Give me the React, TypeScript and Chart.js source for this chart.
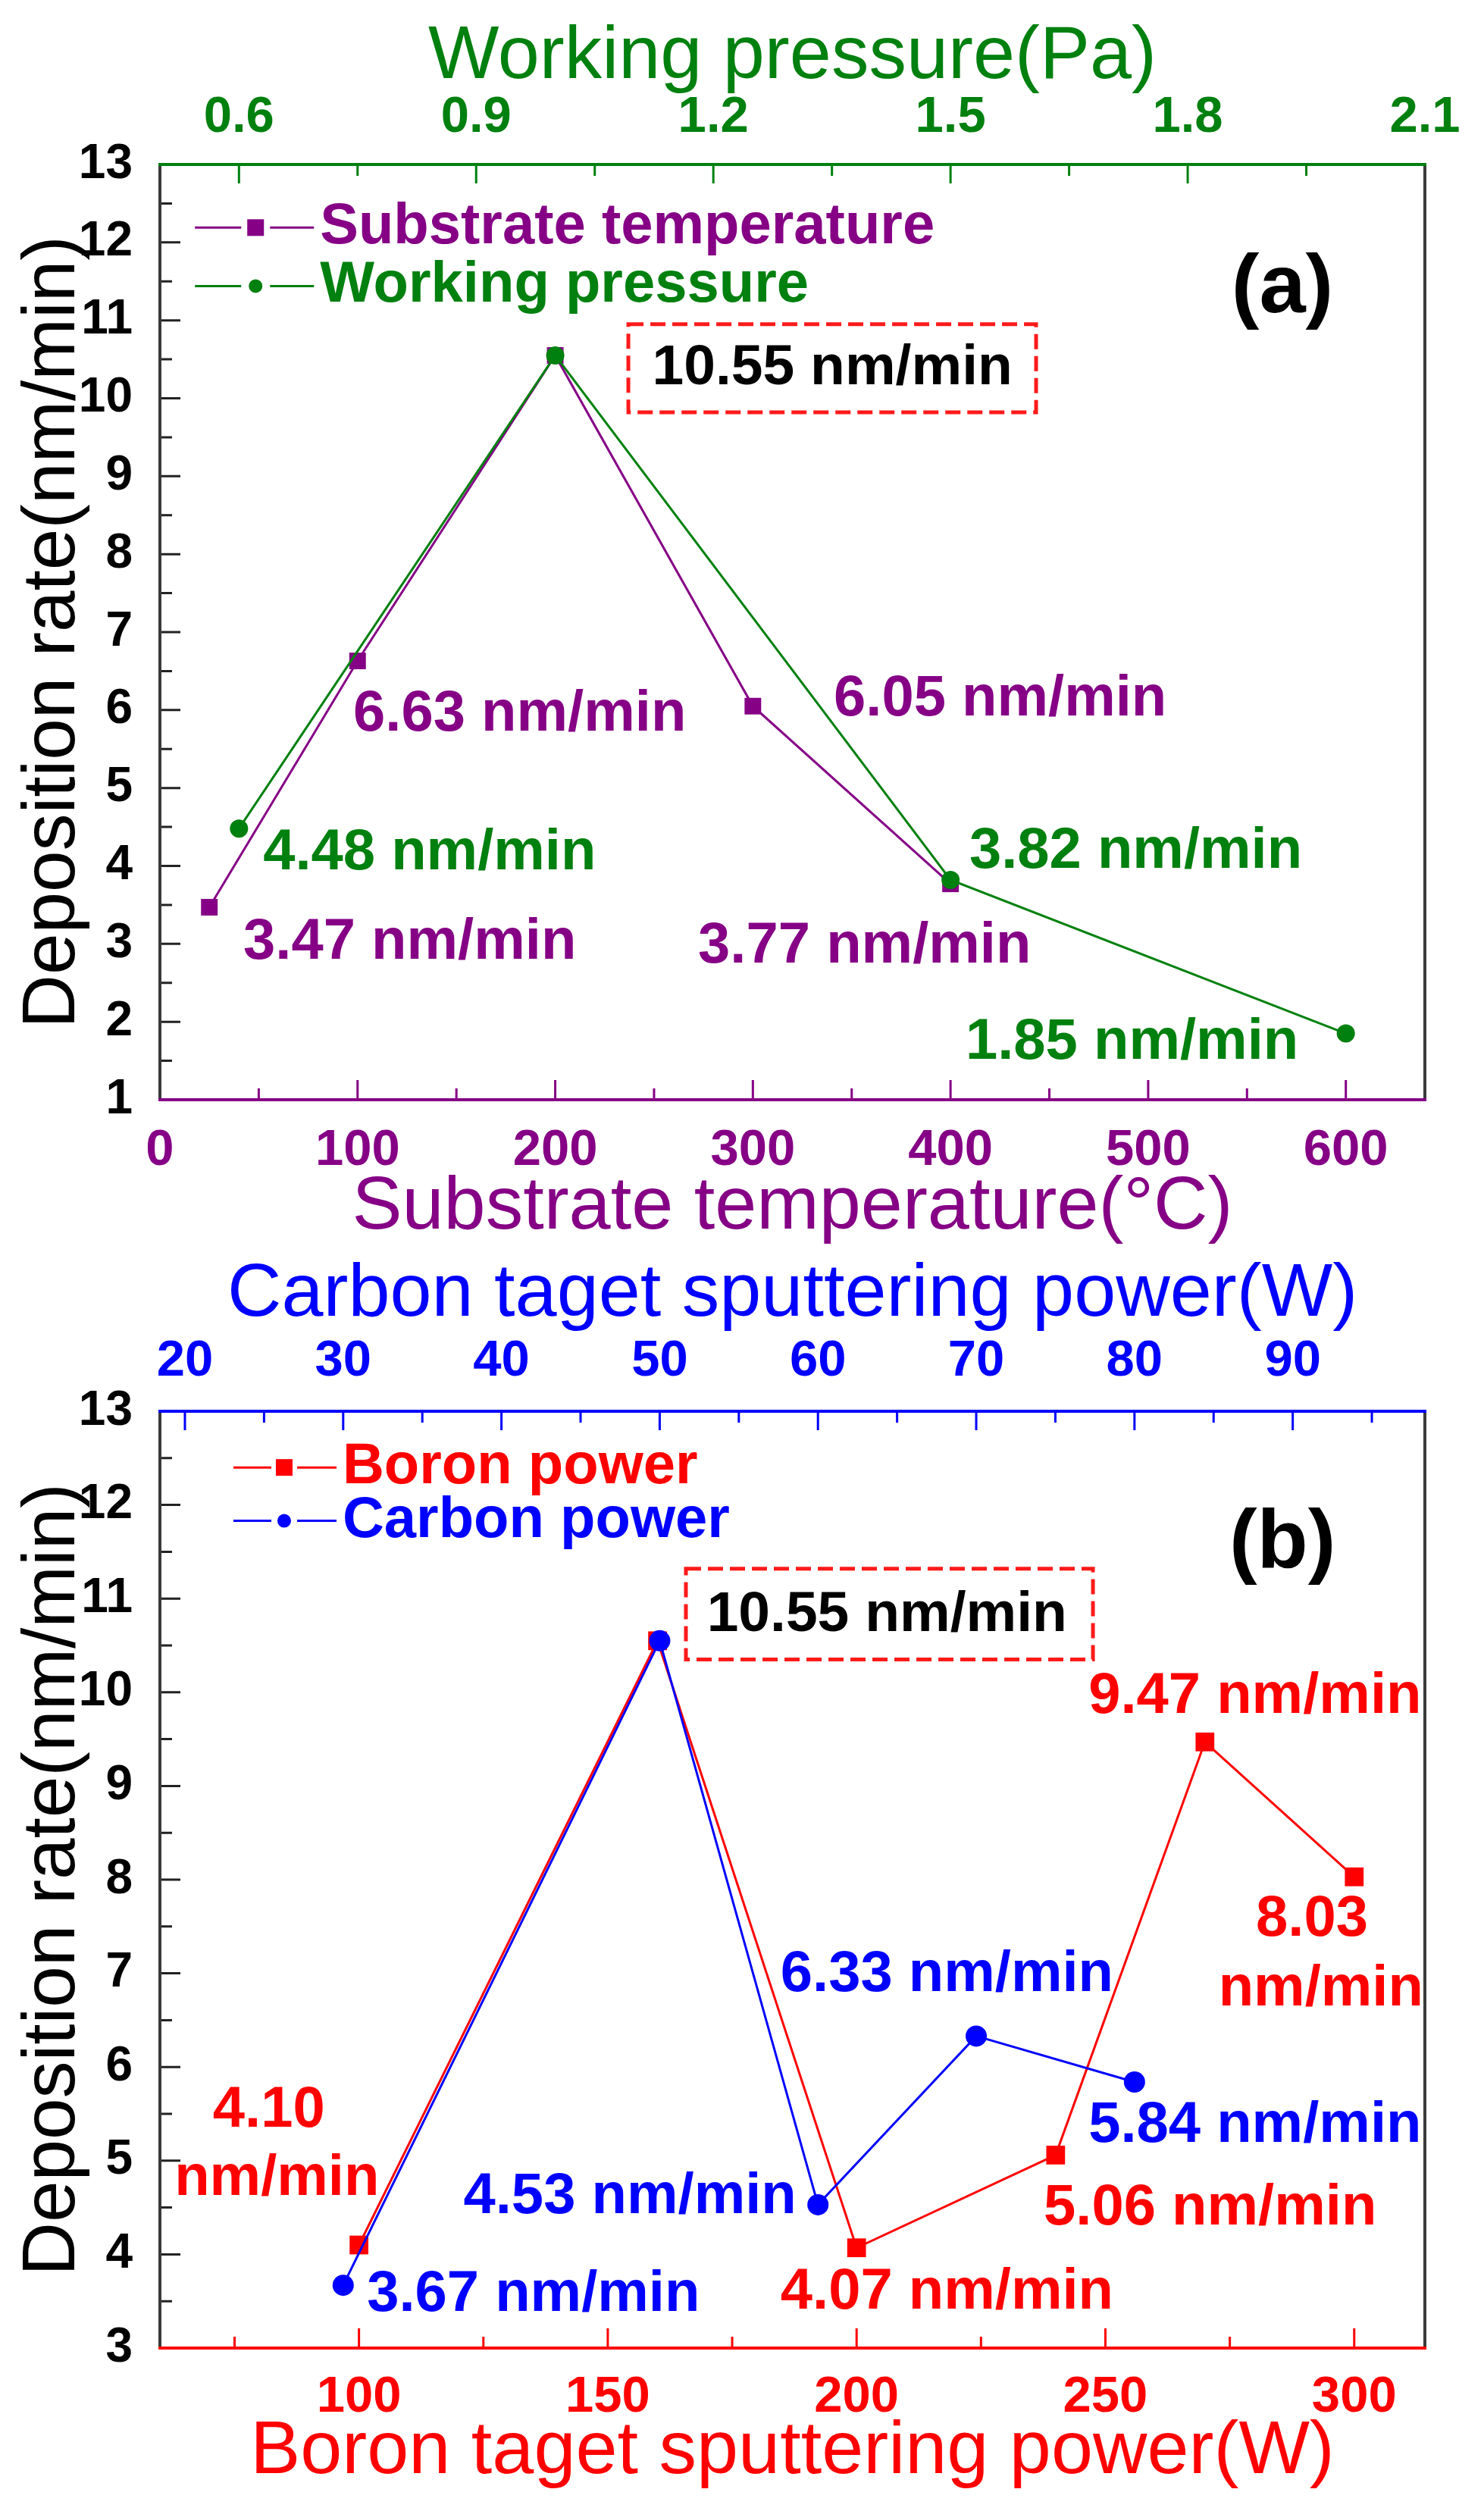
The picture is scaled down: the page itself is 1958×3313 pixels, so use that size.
import React, { useEffect, useRef } from 'react';
import { Chart, registerables } from 'chart.js';

Chart.register(...registerables);

// ---------------- Panel (a) data ----------------
const substrateTempC = [25, 100, 200, 300, 400];
const substrateRate = [3.47, 6.63, 10.55, 6.05, 3.77];
const pressurePa = [0.6, 1.0, 1.5, 2.0];
const pressureRate = [4.48, 10.55, 3.82, 1.85];

const tempTicks = [0, 100, 200, 300, 400, 500, 600];
const tempTickLabels = ['0', '100', '200', '300', '400', '500', '600'];
const tempMinor = [50, 150, 250, 350, 450, 550];
const pressureTicks = [0.6, 0.9, 1.2, 1.5, 1.8, 2.1];
const pressureTickLabels = ['0.6', '0.9', '1.2', '1.5', '1.8', '2.1'];
const pressureMinor = [0.75, 1.05, 1.35, 1.65, 1.95];
const rateTicksA = [1, 2, 3, 4, 5, 6, 7, 8, 9, 10, 11, 12, 13];
const rateMinorA = [1.5, 2.5, 3.5, 4.5, 5.5, 6.5, 7.5, 8.5, 9.5, 10.5, 11.5, 12.5];

// ---------------- Panel (b) data ----------------
const boronPowerW = [100, 160, 200, 240, 270, 300];
const boronRate = [4.1, 10.55, 4.07, 5.06, 9.47, 8.03];
const carbonPowerW = [30, 50, 60, 70, 80];
const carbonRate = [3.67, 10.55, 4.53, 6.33, 5.84];

const boronTicks = [100, 150, 200, 250, 300];
const boronTickLabels = ['100', '150', '200', '250', '300'];
const boronMinor = [75, 125, 175, 225, 275];
const carbonTicks = [20, 30, 40, 50, 60, 70, 80, 90];
const carbonTickLabels = ['20', '30', '40', '50', '60', '70', '80', '90'];
const carbonMinor = [25, 35, 45, 55, 65, 75, 85, 95];
const rateTicksB = [3, 4, 5, 6, 7, 8, 9, 10, 11, 12, 13];
const rateMinorB = [3.5, 4.5, 5.5, 6.5, 7.5, 8.5, 9.5, 10.5, 11.5, 12.5];

// ---------------- colours / fonts ----------------
const PURPLE = '#850085';
const GREEN = '#00800f';
const RED = '#ff0000';
const BLUE = '#0000ff';
const AXIS_BLACK = '#222222';
const FONT = '"Liberation Sans", Arial, Helvetica, sans-serif';

type Ann = { text: string; x: number; y: number; color: string; align: CanvasTextAlign };

// annotation anchors in (bottom-axis value, rate value)
const annotationsA: Ann[] = [
  { text: '6.63 nm/min', x: 97.8, y: 5.94, color: PURPLE, align: 'left' },
  { text: '6.05 nm/min', x: 340.9, y: 6.13, color: PURPLE, align: 'left' },
  { text: '4.48 nm/min', x: 52.2, y: 4.16, color: GREEN, align: 'left' },
  { text: '3.82 nm/min', x: 409.5, y: 4.18, color: GREEN, align: 'left' },
  { text: '3.47 nm/min', x: 42.2, y: 3.01, color: PURPLE, align: 'left' },
  { text: '3.77 nm/min', x: 272.3, y: 2.96, color: PURPLE, align: 'left' },
  { text: '1.85 nm/min', x: 407.6, y: 1.73, color: GREEN, align: 'left' },
];
const annotationsB: Ann[] = [
  { text: '4.10', x: 81.9, y: 5.53, color: RED, align: 'center' },
  { text: 'nm/min', x: 83.5, y: 4.8, color: RED, align: 'center' },
  { text: '4.53 nm/min', x: 187.9, y: 4.61, color: BLUE, align: 'right' },
  { text: '3.67 nm/min', x: 101.6, y: 3.57, color: BLUE, align: 'left' },
  { text: '4.07 nm/min', x: 184.7, y: 3.59, color: RED, align: 'left' },
  { text: '6.33 nm/min', x: 184.7, y: 6.98, color: BLUE, align: 'left' },
  { text: '5.84 nm/min', x: 246.6, y: 5.37, color: BLUE, align: 'left' },
  { text: '5.06 nm/min', x: 237.6, y: 4.49, color: RED, align: 'left' },
  { text: '8.03', x: 291.5, y: 7.57, color: RED, align: 'center' },
  { text: 'nm/min', x: 293.3, y: 6.83, color: RED, align: 'center' },
  { text: '9.47 nm/min', x: 246.6, y: 9.95, color: RED, align: 'left' },
];

type Spec = {
  height: number;
  padding: { left: number; right: number; top: number; bottom: number };
  topH: number;
  bottomH: number;
  leftW: number;
  bottom: any;
  top: any;
  y: any;
  datasets: any[];
  annotations: Ann[];
  panelLabel: { text: string; x: number; y: number };
  box: { x0: number; x1: number; y0: number; y1: number; text: string; tx: number; ty: number };
  legend: { x: number; y: number; text: string; color: string; marker: 'rect' | 'circle'; size: number }[];
  legendGeom: { lineStart: number; lineEnd: number; marker: number; gap: number };
};

const specA: Spec = {
  height: 1650,
  padding: { left: 22, right: 78, top: 26, bottom: 7 },
  topH: 191,
  bottomH: 192,
  leftW: 189,
  bottom: {
    min: 0, max: 640, ticks: tempTicks, labels: tempTickLabels, minor: tempMinor,
    color: PURPLE, title: 'Substrate temperature(°C)', pad: 26,
  },
  top: {
    min: 0.5, max: 2.1, ticks: pressureTicks, labels: pressureTickLabels, minor: pressureMinor,
    color: GREEN, title: 'Working pressure(Pa)', pad: 20,
  },
  y: { min: 1, max: 13, ticks: rateTicksA, minor: rateMinorA },
  datasets: [
    {
      label: 'Substrate temperature',
      data: substrateTempC.map((t, i) => ({ x: t, y: substrateRate[i] })),
      xAxisID: 'x', yAxisID: 'y',
      borderColor: PURPLE, backgroundColor: PURPLE, borderWidth: 3,
      pointStyle: 'rect', pointRadius: 15.5, pointBorderWidth: 0,
      pointBackgroundColor: PURPLE, showLine: true, order: 1,
    },
    {
      label: 'Working pressure',
      data: pressurePa.map((p, i) => ({ x: p, y: pressureRate[i] })),
      xAxisID: 'x2', yAxisID: 'y',
      borderColor: GREEN, backgroundColor: GREEN, borderWidth: 3,
      pointStyle: 'circle', pointRadius: 12, pointBorderWidth: 0,
      pointBackgroundColor: GREEN, showLine: true, order: 0,
    },
  ],
  annotations: annotationsA,
  panelLabel: { text: '(a)', x: 567.9, y: 11.4 },
  box: { x0: 237, x1: 443.3, y0: 10.95, y1: 9.82, text: '10.55 nm/min', tx: 340.2, ty: 10.38 },
  legend: [
    { x: 81, y: 12.19, text: 'Substrate temperature', color: PURPLE, marker: 'rect', size: 11 },
    { x: 81, y: 11.44, text: 'Working pressure', color: GREEN, marker: 'circle', size: 9 },
  ],
  legendGeom: { lineStart: -165, lineEnd: -8, marker: -85, gap: 19 },
};

const specB: Spec = {
  height: 1663,
  padding: { left: 22, right: 78, top: 9, bottom: 28 },
  topH: 203,
  bottomH: 187,
  leftW: 189,
  bottom: {
    min: 60, max: 314.2, ticks: boronTicks, labels: boronTickLabels, minor: boronMinor,
    color: RED, title: 'Boron taget sputtering power(W)', pad: 24,
  },
  top: {
    min: 18.42, max: 98.35, ticks: carbonTicks, labels: carbonTickLabels, minor: carbonMinor,
    color: BLUE, title: 'Carbon taget sputtering power(W)', pad: 24,
  },
  y: { min: 3, max: 13, ticks: rateTicksB, minor: rateMinorB },
  datasets: [
    {
      label: 'Boron power',
      data: boronPowerW.map((p, i) => ({ x: p, y: boronRate[i] })),
      xAxisID: 'x', yAxisID: 'y',
      borderColor: RED, backgroundColor: RED, borderWidth: 3,
      pointStyle: 'rect', pointRadius: 17.5, pointBorderWidth: 0,
      pointBackgroundColor: RED, showLine: true, order: 1,
    },
    {
      label: 'Carbon power',
      data: carbonPowerW.map((p, i) => ({ x: p, y: carbonRate[i] })),
      xAxisID: 'x2', yAxisID: 'y',
      borderColor: BLUE, backgroundColor: BLUE, borderWidth: 3,
      pointStyle: 'circle', pointRadius: 14, pointBorderWidth: 0,
      pointBackgroundColor: BLUE, showLine: true, order: 0,
    },
  ],
  annotations: annotationsB,
  panelLabel: { text: '(b)', x: 285.6, y: 11.58 },
  box: { x0: 165.7, x1: 247.5, y0: 11.32, y1: 10.35, text: '10.55 nm/min', tx: 206.1, ty: 10.82 },
  legend: [
    { x: 96.7, y: 12.4, text: 'Boron power', color: RED, marker: 'rect', size: 11 },
    { x: 96.7, y: 11.83, text: 'Carbon power', color: BLUE, marker: 'circle', size: 9 },
  ],
  legendGeom: { lineStart: -144, lineEnd: -8, marker: -77, gap: 17 },
};

function makeOverlay(spec: Spec) {
  return {
    id: 'overlay',
    beforeDatasetsDraw(chart: any) {
      const ctx: CanvasRenderingContext2D = chart.ctx;
      const a = chart.chartArea;
      const xs = chart.scales.x;
      const x2 = chart.scales.x2;
      const ys = chart.scales.y;
      ctx.save();
      ctx.lineCap = 'butt';
      // inward ticks
      const vTicks = (scale: any, vals: number[], len: number, color: string, edge: 'top' | 'bottom') => {
        ctx.strokeStyle = color;
        ctx.lineWidth = 3;
        ctx.beginPath();
        vals.forEach((v) => {
          const px = scale.getPixelForValue(v);
          if (px < a.left - 1 || px > a.right + 1) return;
          if (edge === 'bottom') {
            ctx.moveTo(px, a.bottom);
            ctx.lineTo(px, a.bottom - len);
          } else {
            ctx.moveTo(px, a.top);
            ctx.lineTo(px, a.top + len);
          }
        });
        ctx.stroke();
      };
      vTicks(xs, spec.bottom.ticks, 26, spec.bottom.color, 'bottom');
      vTicks(xs, spec.bottom.minor, 15, spec.bottom.color, 'bottom');
      vTicks(x2, spec.top.ticks, 25, spec.top.color, 'top');
      vTicks(x2, spec.top.minor, 15, spec.top.color, 'top');
      ctx.strokeStyle = AXIS_BLACK;
      ctx.lineWidth = 3;
      ctx.beginPath();
      spec.y.ticks.forEach((v: number) => {
        const py = ys.getPixelForValue(v);
        ctx.moveTo(a.left, py);
        ctx.lineTo(a.left + 27, py);
      });
      spec.y.minor.forEach((v: number) => {
        const py = ys.getPixelForValue(v);
        ctx.moveTo(a.left, py);
        ctx.lineTo(a.left + 16, py);
      });
      ctx.stroke();
      // frame
      ctx.lineWidth = 4;
      ctx.strokeStyle = '#3a3a3a';
      ctx.beginPath();
      ctx.moveTo(a.left, a.top);
      ctx.lineTo(a.left, a.bottom);
      ctx.moveTo(a.right, a.top);
      ctx.lineTo(a.right, a.bottom);
      ctx.stroke();
      ctx.lineWidth = 4;
      ctx.strokeStyle = spec.top.color;
      ctx.beginPath();
      ctx.moveTo(a.left - 2, a.top);
      ctx.lineTo(a.right + 2, a.top);
      ctx.stroke();
      ctx.strokeStyle = spec.bottom.color;
      ctx.beginPath();
      ctx.moveTo(a.left - 2, a.bottom);
      ctx.lineTo(a.right + 2, a.bottom);
      ctx.stroke();
      ctx.restore();
    },
    afterDatasetsDraw(chart: any) {
      const ctx: CanvasRenderingContext2D = chart.ctx;
      const xs = chart.scales.x;
      const ys = chart.scales.y;
      ctx.save();
      ctx.textBaseline = 'middle';
      // value annotations
      ctx.font = `bold 76px ${FONT}`;
      spec.annotations.forEach((an) => {
        ctx.fillStyle = an.color;
        ctx.textAlign = an.align;
        ctx.fillText(an.text, xs.getPixelForValue(an.x), ys.getPixelForValue(an.y));
      });
      // dashed box
      const b = spec.box;
      const bx0 = xs.getPixelForValue(b.x0);
      const bx1 = xs.getPixelForValue(b.x1);
      const by0 = ys.getPixelForValue(b.y0);
      const by1 = ys.getPixelForValue(b.y1);
      ctx.setLineDash([20, 9]);
      ctx.lineWidth = 5;
      ctx.strokeStyle = '#ff1a1a';
      ctx.strokeRect(bx0, by0, bx1 - bx0, by1 - by0);
      ctx.setLineDash([]);
      ctx.fillStyle = '#000000';
      ctx.textAlign = 'center';
      ctx.font = `bold 75px ${FONT}`;
      ctx.fillText(b.text, xs.getPixelForValue(b.tx), ys.getPixelForValue(b.ty));
      // panel label
      ctx.font = `bold 110px ${FONT}`;
      ctx.fillText(spec.panelLabel.text, xs.getPixelForValue(spec.panelLabel.x), ys.getPixelForValue(spec.panelLabel.y));
      // legend
      const g = spec.legendGeom;
      spec.legend.forEach((it) => {
        const tx = xs.getPixelForValue(it.x);
        const ty = ys.getPixelForValue(it.y);
        const mx = tx + g.marker;
        ctx.strokeStyle = it.color;
        ctx.lineWidth = 3;
        ctx.beginPath();
        ctx.moveTo(tx + g.lineStart, ty);
        ctx.lineTo(mx - g.gap, ty);
        ctx.moveTo(mx + g.gap, ty);
        ctx.lineTo(tx + g.lineEnd, ty);
        ctx.stroke();
        ctx.fillStyle = it.color;
        if (it.marker === 'rect') {
          ctx.fillRect(mx - it.size, ty - it.size, it.size * 2, it.size * 2);
        } else {
          ctx.beginPath();
          ctx.arc(mx, ty, it.size, 0, Math.PI * 2);
          ctx.fill();
        }
        ctx.textAlign = 'left';
        ctx.font = `bold 76px ${FONT}`;
        ctx.fillText(it.text, tx, ty);
      });
      ctx.restore();
    },
  };
}

function buildConfig(spec: Spec): any {
  const tickFont = { family: FONT, size: 67, weight: 'bold' as const, lineHeight: 1 };
  const titleFont = { family: FONT, size: 99, lineHeight: 1 };
  return {
    type: 'scatter',
    data: { datasets: spec.datasets },
    options: {
      animation: false,
      responsive: false,
      maintainAspectRatio: false,
      devicePixelRatio: 1,
      layout: { padding: spec.padding },
      plugins: { legend: { display: false }, tooltip: { enabled: false } },
      elements: { line: { tension: 0 } },
      scales: {
        x: {
          type: 'linear', position: 'bottom', min: spec.bottom.min, max: spec.bottom.max,
          afterBuildTicks: (s: any) => { s.ticks = spec.bottom.ticks.map((v: number) => ({ value: v })); },
          afterFit: (s: any) => { s.height = spec.bottomH; },
          grid: { display: false }, border: { display: false },
          ticks: {
            color: spec.bottom.color, font: tickFont, padding: spec.bottom.pad,
            autoSkip: false, maxRotation: 0, minRotation: 0,
            callback: (_v: any, i: number) => spec.bottom.labels[i],
          },
          title: { display: true, text: spec.bottom.title, color: spec.bottom.color, font: titleFont, padding: 0 },
        },
        x2: {
          type: 'linear', position: 'top', min: spec.top.min, max: spec.top.max,
          afterBuildTicks: (s: any) => { s.ticks = spec.top.ticks.map((v: number) => ({ value: v })); },
          afterFit: (s: any) => { s.height = spec.topH; },
          grid: { display: false }, border: { display: false },
          ticks: {
            color: spec.top.color, font: tickFont, padding: spec.top.pad,
            autoSkip: false, maxRotation: 0, minRotation: 0,
            callback: (_v: any, i: number) => spec.top.labels[i],
          },
          title: { display: true, text: spec.top.title, color: spec.top.color, font: titleFont, padding: 0 },
        },
        y: {
          type: 'linear', position: 'left', min: spec.y.min, max: spec.y.max,
          afterBuildTicks: (s: any) => { s.ticks = spec.y.ticks.map((v: number) => ({ value: v })); },
          afterFit: (s: any) => { s.width = spec.leftW; },
          grid: { display: false }, border: { display: false },
          ticks: {
            color: '#000000', font: { family: FONT, size: 64, weight: 'bold', lineHeight: 1 }, padding: 28,
            autoSkip: false, callback: (v: any) => String(v),
          },
          title: {
            display: true, text: 'Deposition rate(nm/min)', color: '#000000',
            font: { family: FONT, size: 98, lineHeight: 1 }, padding: 0,
          },
        },
      },
    },
    plugins: [makeOverlay(spec)],
  };
}

export default function App() {
  const refA = useRef<HTMLCanvasElement | null>(null);
  const refB = useRef<HTMLCanvasElement | null>(null);

  useEffect(() => {
    const charts: Chart[] = [];
    if (refA.current) charts.push(new Chart(refA.current, buildConfig(specA)));
    if (refB.current) charts.push(new Chart(refB.current, buildConfig(specB)));
    return () => charts.forEach((c) => c.destroy());
  }, []);

  return (
    <div style={{ position: 'absolute', left: 0, top: 0, width: 1958, height: 3313, background: '#ffffff', overflow: 'hidden' }}>
      <canvas ref={refA} width={1958} height={specA.height} style={{ position: 'absolute', left: 0, top: 0, width: 1958, height: specA.height }} />
      <canvas ref={refB} width={1958} height={specB.height} style={{ position: 'absolute', left: 0, top: specA.height, width: 1958, height: specB.height }} />
    </div>
  );
}
